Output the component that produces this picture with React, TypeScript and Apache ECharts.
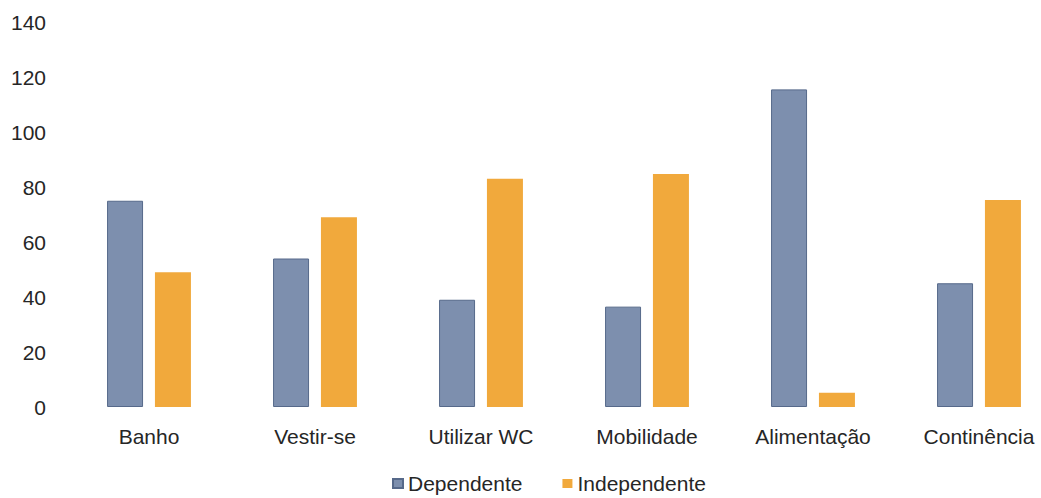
import React, { useEffect, useRef } from "react";
import * as echarts from "echarts";

const categories = ["Banho", "Vestir-se", "Utilizar WC", "Mobilidade", "Alimentação", "Continência"];
const dependente = [75, 54, 39, 36.5, 115.5, 45];
const independente = [49, 69, 83, 84.7, 5.2, 75.3];
const yTicks = [0, 20, 40, 60, 80, 100, 120, 140];

export default function App() {
  const ref = useRef<HTMLDivElement>(null);
  useEffect(() => {
    if (!ref.current) return;
    const chart = echarts.init(ref.current, undefined, { renderer: "svg" });
    const font = "'Liberation Sans', Arial, sans-serif";
    chart.setOption({
      animation: false,
      backgroundColor: "#ffffff",
      textStyle: { fontFamily: font },
      grid: { left: 66, top: 22, width: 996, bottom: 91, containLabel: false },
      legend: {
        left: 387,
        top: 468,
        itemWidth: 10,
        itemHeight: 9,
        itemGap: 40,
        icon: "rect",
        textStyle: { fontSize: 21, color: "#262626", fontFamily: font, padding: [0, 0, 0, 0] },
        data: ["Dependente", "Independente"],
      },
      xAxis: {
        type: "category",
        data: categories,
        axisLine: { show: false },
        axisTick: { show: false },
        axisLabel: { fontSize: 21, color: "#262626", margin: 19, fontFamily: font, interval: 0 },
      },
      yAxis: {
        type: "value",
        min: yTicks[0],
        max: yTicks[yTicks.length - 1],
        interval: 20,
        splitLine: { show: false },
        axisLine: { show: false },
        axisTick: { show: false },
        axisLabel: { fontSize: 21, color: "#262626", margin: 20, fontFamily: font },
      },
      series: [
        {
          name: "Dependente",
          type: "bar",
          data: dependente,
          barWidth: 36,
          barGap: "33%",
          itemStyle: { color: "#7d8fae", borderColor: "#56698a", borderWidth: 1 },
        },
        {
          name: "Independente",
          type: "bar",
          data: independente,
          barWidth: 36,
          barGap: "33%",
          itemStyle: { color: "#f1a93c" },
        },
      ],
    });
    return () => chart.dispose();
  }, []);
  return (
    <div
      style={{ position: "absolute", left: 0, top: 0, width: 1041, height: 498, overflow: "hidden" }}
    >
      <div ref={ref} style={{ width: 1080, height: 498 }} />
    </div>
  );
}
